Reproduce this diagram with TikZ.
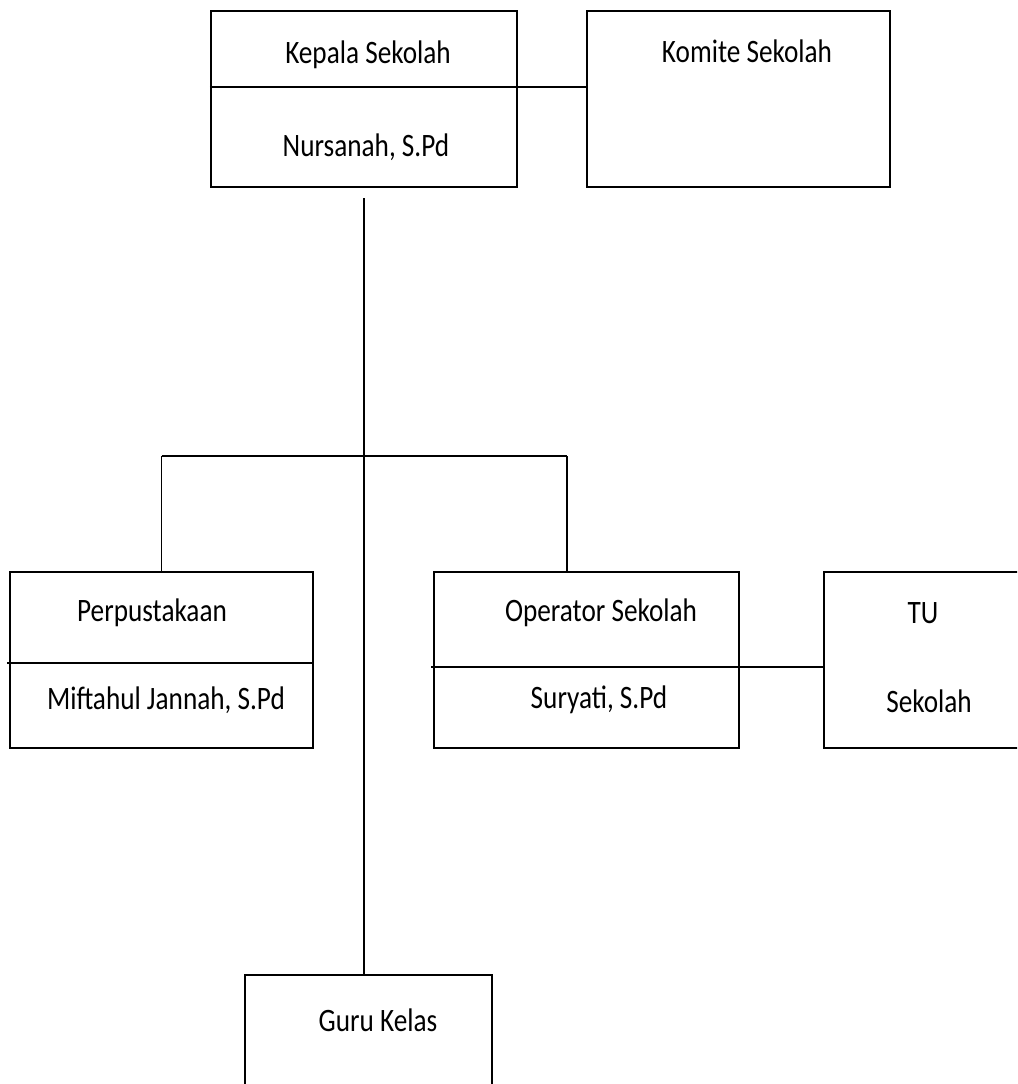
\documentclass[tikz,border=0pt]{standalone}
\usepackage{fontspec}
\setmainfont{Carlito}
\usetikzlibrary{positioning,calc}

\begin{document}
\begin{tikzpicture}[x=0.02cm, y=-0.02cm,
  unit/.style={rectangle, draw=black, line width=1.3pt, inner sep=0pt},
  lbl/.style={inner sep=0pt, font=\fontsize{15.5}{18}\selectfont, yscale=1.2, transform shape},
  link/.style={draw=black, line width=1pt}
]
  \clip (0,0) rectangle (1017,1084);
  \useasboundingbox (0,0) rectangle (1017,1084);

  % boxes
  \node[unit, minimum width=6.12cm, minimum height=3.52cm] (kepala) at (364,99) {};
  \node[unit, minimum width=6.06cm, minimum height=3.52cm] (komite) at (738.5,99) {};
  \node[unit, minimum width=6.06cm, minimum height=3.52cm] (perpus) at (161.5,660) {};
  \node[unit, minimum width=6.10cm, minimum height=3.52cm] (operator) at (586.5,660) {};
  \node[unit, minimum width=6.10cm, minimum height=3.52cm] (tu) at (976.5,660) {};
  \node[unit, minimum width=4.94cm, minimum height=3.52cm] (guru) at (368.5,1063) {};

  % texts
  \node[lbl] (kepalaT) at (368,55) {Kepala Sekolah};
  \node[lbl] (kepalaN) at (366,147) {Nursanah, S.Pd};
  \node[lbl] (komiteT) at (747,51) {Komite Sekolah};
  \node[lbl] (perpusT) at (152,613) {Perpustakaan};
  \node[lbl] (perpusN) at (166,700) {Miftahul Jannah, S.Pd};
  \node[lbl] (operatorT) at (601,613) {Operator Sekolah};
  \node[lbl] (operatorN) at (599,700) {Suryati, S.Pd};
  \node[lbl] (tuT) at (923,613) {TU};
  \node[lbl] (tuN) at (929,701) {Sekolah};
  \node[lbl] (guruT) at (378,1020) {Guru Kelas};

  % dividers and side links
  \coordinate (kdiv) at (0,87);
  \coordinate (pdiv) at (7,663);
  \coordinate (odiv) at (431,667);
  \draw[link, line width=1.3pt] (kepala.west |- kdiv) -- (kepala.east |- kdiv);
  \draw[link] (kepala.east |- kdiv) -- (komite.west |- kdiv);
  \draw[link, line width=1.3pt] (pdiv) -- (perpus.east |- pdiv);
  \draw[link, line width=1.3pt] (odiv) -- (operator.east |- odiv);
  \draw[link] (operator.east |- odiv) -- (tu.west |- odiv);

  % main trunk
  \coordinate (bar) at (0,456);
  \draw[link] ([yshift=-0.2cm]kepala.south) -- (kepala.south |- guru.north);
  \draw[link] (perpus.north |- bar) -- ([xshift=-0.39cm]operator.north |- bar);
  \draw[link] (perpus.north |- bar) -- (perpus.north);
  \draw[link] ([xshift=-0.39cm]operator.north |- bar) -- ([xshift=-0.39cm]operator.north);
\end{tikzpicture}
\end{document}
